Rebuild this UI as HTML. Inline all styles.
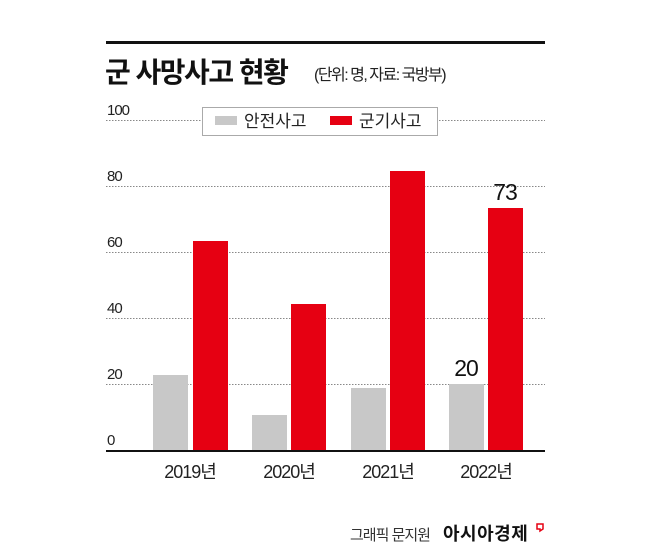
<!DOCTYPE html><html><head><meta charset="utf-8"><style>body{margin:0;background:#fff}svg{display:block}text{font-family:"Liberation Sans","Noto Sans CJK KR",sans-serif}</style></head><body>
<svg width="650" height="552" viewBox="0 0 650 552" xmlns="http://www.w3.org/2000/svg">
<rect width="650" height="552" fill="#fff"/>
<rect x="106" y="41" width="439" height="3" fill="#111"/>
<text x="105" y="82" font-size="28" font-weight="bold" fill="#111" letter-spacing="-1.5">군 사망사고 현황</text>
<text x="314" y="80" font-size="16" fill="#222" letter-spacing="-1.5">(단위: 명, 자료: 국방부)</text>
<g stroke="#888" stroke-width="1" stroke-dasharray="1.5,1.5">
<line x1="106" y1="120.5" x2="545" y2="120.5"/><line x1="106" y1="186.5" x2="545" y2="186.5"/><line x1="106" y1="252.5" x2="545" y2="252.5"/><line x1="106" y1="318.5" x2="545" y2="318.5"/><line x1="106" y1="384.5" x2="545" y2="384.5"/>
</g>
<g font-size="15" fill="#222" letter-spacing="-1">
<text x="107" y="115">100</text><text x="107" y="181">80</text><text x="107" y="247">60</text><text x="107" y="313">40</text><text x="107" y="379">20</text><text x="107" y="445">0</text>
</g>
<rect x="202.5" y="107.5" width="235" height="28" fill="#fff" stroke="#aaa"/>
<rect x="215" y="116" width="22" height="9" fill="#c8c8c8"/>
<text x="244" y="127" font-size="17" fill="#222">안전사고</text>
<rect x="330" y="116" width="22" height="9" fill="#e60012"/>
<text x="359" y="127" font-size="17" fill="#222">군기사고</text>
<g fill="#c8c8c8">
<rect x="153" y="375" width="35" height="76"/><rect x="252" y="415" width="35" height="36"/><rect x="351" y="388" width="35" height="63"/><rect x="449" y="384" width="35" height="67"/>
</g>
<g fill="#e60012">
<rect x="193" y="241" width="35" height="210"/><rect x="291" y="304" width="35" height="147"/><rect x="390" y="171" width="35" height="280"/><rect x="488" y="208" width="35" height="243"/>
</g>
<rect x="106" y="450" width="439" height="2" fill="#111"/>
<text x="466" y="376" font-size="23" fill="#111" text-anchor="middle" letter-spacing="-1">20</text>
<text x="505" y="200" font-size="23" fill="#111" text-anchor="middle" letter-spacing="-1">73</text>
<g font-size="18" fill="#222" text-anchor="middle" letter-spacing="-1">
<text x="190" y="478">2019년</text><text x="289" y="478">2020년</text><text x="388" y="478">2021년</text><text x="486" y="478">2022년</text>
</g>
<text x="350" y="540" font-size="15" fill="#333" letter-spacing="-1">그래픽 문지원</text>
<text x="443" y="540" font-size="18" font-weight="bold" fill="#111" letter-spacing="0.5">아시아경제</text>
<path d="M537 524h6v5l-3 2v-2h-3z" fill="none" stroke="#e60012" stroke-width="1.5"/>
</svg>
</body></html>
